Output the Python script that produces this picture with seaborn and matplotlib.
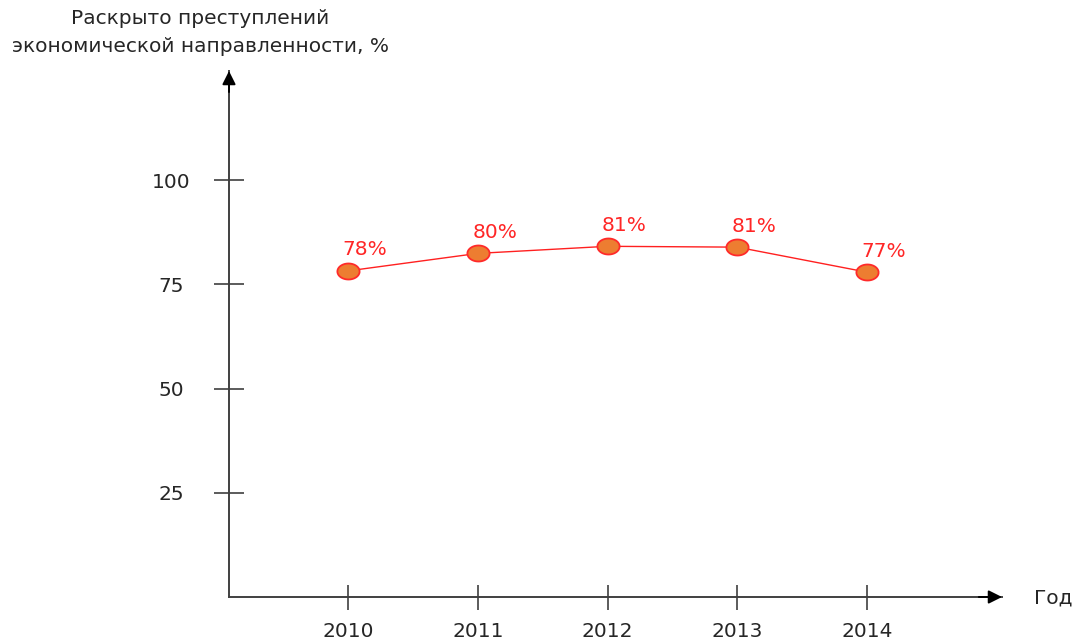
import matplotlib
matplotlib.use("Agg")
import matplotlib.pyplot as plt
import seaborn as sns
import pandas as pd
import numpy as np
from matplotlib.path import Path

# ---- data ----
years = ["2010", "2011", "2012", "2013", "2014"]
values = [78.2, 82.4, 84.1, 83.9, 77.9]
labels = ["78%", "80%", "81%", "81%", "77%"]
y_ticks = [25, 50, 75, 100]
title_lines = ["Раскрыто преступлений", "экономической направленности, %"]
x_title = "Год"

sns.set_theme(style="white")
plt.rcParams['font.family'] = ['DejaVu Sans']

W, H = 1080, 641
fig = plt.figure(figsize=(W / 100, H / 100), dpi=100)
ax_left, ax_right, ax_bottom, ax_top = 229, 1002, 597, 71
ax = fig.add_axes([ax_left / W, (H - ax_bottom) / H,
                   (ax_right - ax_left) / W, (ax_bottom - ax_top) / H])

df = pd.DataFrame({"year": years, "value": values})
t = np.linspace(0, 2 * np.pi, 60)
ellipse = Path(np.column_stack([np.cos(t), 0.72 * np.sin(t)]))

sns.lineplot(data=df, x="year", y="value", ax=ax, color="#FF2020",
             linewidth=1.0, marker=ellipse, markersize=16,
             markerfacecolor="#ED7D31", markeredgecolor="#FF2A2A",
             markeredgewidth=1.3)

px_per_year = (867 - 348) / 4
ax.set_xlim((ax_left - 348) / px_per_year, (ax_right - 348) / px_per_year)
px_per_unit = (597 - 180) / 100
ax.set_ylim(0, (ax_bottom - ax_top) / px_per_unit)

ax.set_xlabel("")
ax.set_ylabel("")
ax.set_yticks(y_ticks)
ax.set_yticklabels([str(v) for v in y_ticks])

FS = 14.5
axis_color = "#404040"
text_color = "#262626"
for s in ["top", "right"]:
    ax.spines[s].set_visible(False)
for s in ["left", "bottom"]:
    ax.spines[s].set_color(axis_color)
    ax.spines[s].set_linewidth(1.4)

ax.tick_params(axis="y", direction="inout", length=22, width=1.2,
               color=axis_color, pad=30.6, labelsize=FS, labelcolor=text_color,
               left=True)
for lab in ax.get_yticklabels():
    lab.set_horizontalalignment("center")
ax.tick_params(axis="x", direction="inout", length=18, width=1.2,
               color=axis_color, pad=9.0, labelsize=FS, labelcolor=text_color,
               bottom=True)

# arrows
ax.annotate("", xy=(0, 1.0), xytext=(0, 0.96), xycoords="axes fraction",
            arrowprops=dict(arrowstyle="-|>", color="black", lw=1.4,
                            mutation_scale=20, shrinkA=0, shrinkB=0),
            annotation_clip=False)
ax.annotate("", xy=(1.0, 0), xytext=(0.97, 0), xycoords="axes fraction",
            arrowprops=dict(arrowstyle="-|>", color="black", lw=1.4,
                            mutation_scale=20, shrinkA=0, shrinkB=0),
            annotation_clip=False)

# value labels
for i, (v, lab) in enumerate(zip(values, labels)):
    ax.annotate(lab, (i, v), xytext=(17, 21), textcoords="offset pixels",
                ha="center", va="center", color="#FF2626", fontsize=FS)

fig.text(200 / W, 1 - 18 / H, title_lines[0], ha="center", va="center",
         fontsize=FS, color=text_color)
fig.text(200 / W, 1 - 46 / H, title_lines[1], ha="center", va="center",
         fontsize=FS, color=text_color)
fig.text(1034 / W, 1 - 598 / H, x_title, ha="left", va="center",
         fontsize=FS, color=text_color)

fig.savefig("out.png", dpi=100)
